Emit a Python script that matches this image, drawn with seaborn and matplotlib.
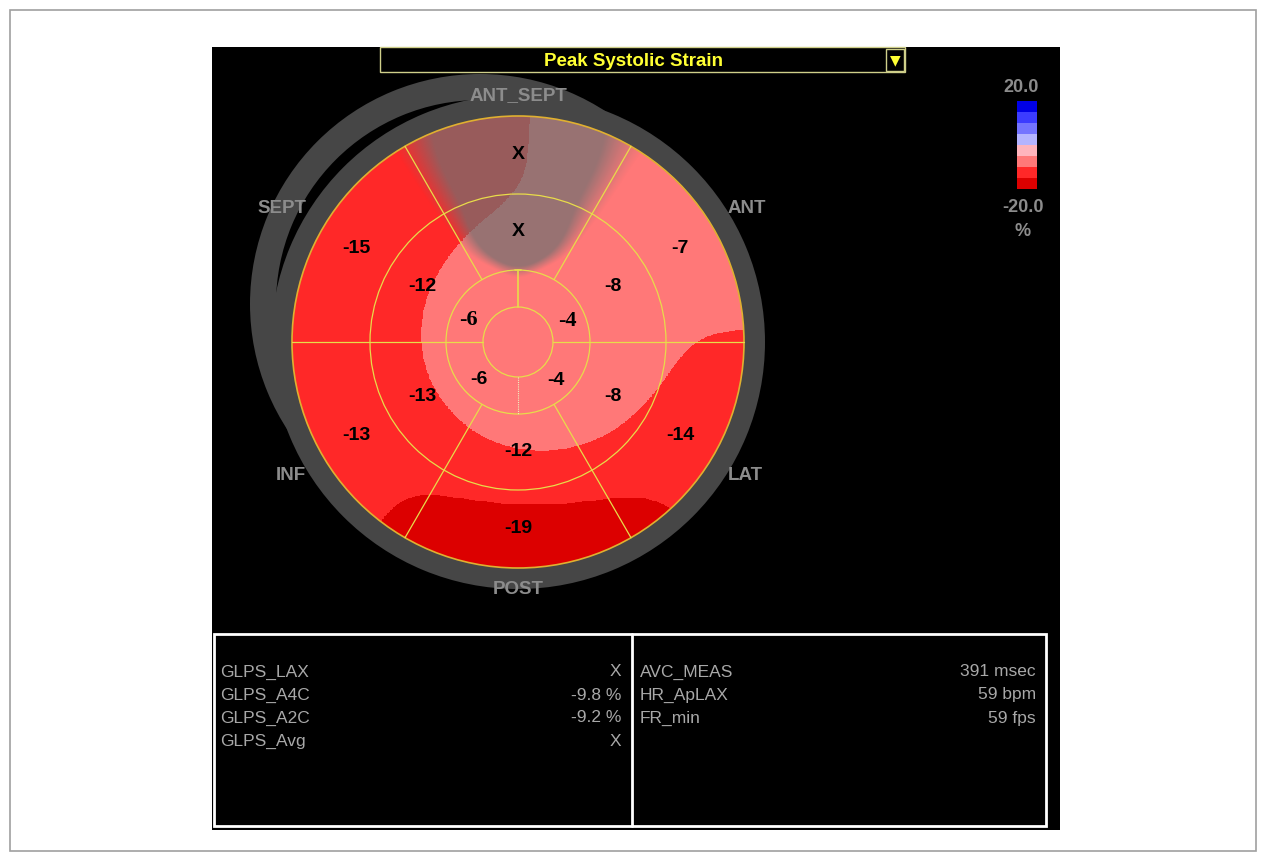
import numpy as np
import matplotlib
matplotlib.use("Agg")
import matplotlib.pyplot as plt
from matplotlib.colors import ListedColormap, BoundaryNorm
from matplotlib.patches import Rectangle, Circle, Wedge
import seaborn as sns

# ---- data -------------------------------------------------------------
walls = ["ANT_SEPT", "ANT", "LAT", "POST", "INF", "SEPT"]
wall_angles = [90, 30, -30, -90, -150, 150]              # degrees, counter-clockwise
basal_strain = [np.nan, -7, -14, -19, -13, -15]          # NaN = not measured ("X")
mid_strain = [np.nan, -8, -8, -12, -13, -12]
apical_angles = [45, -45, -135, 135]
apical_strain = [-4, -4, -6, -6]

cbar_levels = [-20, -15, -10, -5, 0, 5, 10, 15, 20]
cbar_colors = ["#dc0000", "#ff2828", "#ff7878", "#ffb4bc",
               "#b4b4ff", "#7474ff", "#3c3cff", "#0000e6"]

title = "Peak Systolic Strain"
left_labels = ["GLPS_LAX", "GLPS_A4C", "GLPS_A2C", "GLPS_Avg"]
left_values = ["X", "-9.8 %", "-9.2 %", "X"]
right_labels = ["AVC_MEAS", "HR_ApLAX", "FR_min"]
right_values = ["391 msec", "59 bpm", "59 fps"]

# ---- style ------------------------------------------------------------
sns.set_style("white")
plt.rcParams["font.family"] = ["Liberation Sans", "DejaVu Sans"]

W, H = 1266, 861
fig = plt.figure(figsize=(W / 100, H / 100), dpi=100)
fig.patch.set_facecolor("white")

# background axes in pixel units
bg = fig.add_axes([0, 0, 1, 1])
bg.set_xlim(0, W)
bg.set_ylim(H, 0)
bg.axis("off")

bg.add_patch(Rectangle((10, 10), 1246, 841, fill=False, ec="#a0a0a0", lw=1.2))
bg.add_patch(Rectangle((212, 47), 848, 783, fc="black", ec="none"))

# title bar
bg.add_patch(Rectangle((380, 47), 525, 25, fc="black", ec="#cfcf8a", lw=1))
bg.add_patch(Rectangle((886, 49), 18, 22, fc="black", ec="#cfcf8a", lw=1))
bg.text(633, 61, title, color="#ffff33", fontsize=13.5, fontweight="bold",
        ha="center", va="center")
bg.text(895, 60, "\u25BC", color="#ffff33", fontsize=10, ha="center", va="center",
        family="DejaVu Sans")

# colour scale
cmap = ListedColormap(sns.color_palette(cbar_colors))
norm = BoundaryNorm(cbar_levels, cmap.N)
box_h = 11
for i, c in enumerate(cbar_colors[::-1]):
    bg.add_patch(Rectangle((1017, 101 + i * box_h), 20, box_h, fc=c, ec="none"))
lab_kw = dict(color="#8c8c8c", fontsize=13, fontweight="bold", ha="center", va="center")
bg.text(1021, 87, f"{cbar_levels[-1]:.1f}", **lab_kw)
bg.text(1023, 207, f"{cbar_levels[0]:.1f}", **lab_kw)
bg.text(1023, 231, "%", **lab_kw)

# bottom measurement tables
bg.add_patch(Rectangle((214, 634), 832, 192, fill=False, ec="white", lw=2))
bg.plot([632, 632], [634, 826], color="white", lw=2)
tab_kw = dict(color="#a8a8a8", fontsize=12.5, va="center")
for i, (lab, val) in enumerate(zip(left_labels, left_values)):
    y = 672 + i * 23
    bg.text(220, y, lab, ha="left", **tab_kw)
    bg.text(621, y, val, ha="right", **tab_kw)
for i, (lab, val) in enumerate(zip(right_labels, right_values)):
    y = 672 + i * 23
    bg.text(640, y, lab, ha="left", **tab_kw)
    bg.text(1036, y, val, ha="right", **tab_kw)

# ---- bullseye ---------------------------------------------------------
cx, cy = 518, 342
S = 300
ax = fig.add_axes([(cx - S) / W, (H - cy - S) / H, 2 * S / W, 2 * S / H])
ax.set_xlim(-S, S)
ax.set_ylim(-S, S)
ax.axis("off")
ax.patch.set_alpha(0)

R_apex, R_apical, R_mid, R_base = 35, 72, 148, 226

# grey frame rings around the plot
ax.add_patch(Wedge((-38, 38), 230, 0, 360, width=26, fc="#464646", ec="none", zorder=1))
ax.add_patch(Wedge((0, 0), 247, 0, 360, width=22, fc="#464646", ec="none", zorder=1))

# segment centres
node_r, node_t, node_v = [], [], []
for ang, b, m in zip(wall_angles, basal_strain, mid_strain):
    node_r += [(R_mid + R_base) / 2, (R_apical + R_mid) / 2]
    node_t += [ang, ang]
    node_v += [b, m]
for ang, a in zip(apical_angles, apical_strain):
    node_r.append((R_apex + R_apical) / 2)
    node_t.append(ang)
    node_v.append(a)
node_r = np.array(node_r, float)
node_t = np.radians(node_t)
node_v = np.array(node_v, float)
nx, ny = node_r * np.cos(node_t), node_r * np.sin(node_t)
valid = ~np.isnan(node_v)

# smoothed strain map: kernel regression, wider along the rings than across them
g = np.linspace(-R_base, R_base, 601)
GX, GY = np.meshgrid(g, g)
GR = np.hypot(GX, GY)[..., None]
GT = np.arctan2(GY, GX)[..., None]
dth = np.angle(np.exp(1j * (GT - node_t)))
arc = 0.5 * (GR + node_r) * dth
kern = np.exp(-0.5 * (((GR - node_r) / 40.0) ** 2 + (arc / 95.0) ** 2))
field = (kern[..., valid] * node_v[valid]).sum(-1) / kern[..., valid].sum(-1)

# share of unmeasured segments around each point
d2 = (GX[..., None] - nx) ** 2 + (GY[..., None] - ny) ** 2
idw = 1.0 / (np.sqrt(d2) + 1e-6) ** 3
missing = idw[..., ~valid].sum(-1) / idw.sum(-1)

disk = Circle((0, 0), R_base, transform=ax.transData)
mesh = ax.pcolormesh(GX, GY, field, cmap=cmap, norm=norm, shading="nearest", zorder=2)
mesh.set_clip_path(disk)

overlay = np.zeros(GX.shape + (4,))
overlay[..., :3] = 0.44
overlay[..., 3] = 0.72 * np.clip((missing - 0.30) / 0.28, 0, 1)
im = ax.imshow(overlay, extent=(-R_base, R_base, -R_base, R_base), origin="lower",
               zorder=3, interpolation="bilinear")
im.set_clip_path(disk)

# segment grid
line_c = "#e8dc4a"
for r in (R_apex, R_apical, R_mid):
    ax.add_patch(Circle((0, 0), r, fill=False, ec=line_c, lw=0.9, zorder=4))
ax.add_patch(Circle((0, 0), R_base, fill=False, ec="#e0b030", lw=1.2, zorder=4))
for ang in (60, 120, 240, 300):
    t = np.radians(ang)
    ax.plot([R_apical * np.cos(t), R_base * np.cos(t)],
            [R_apical * np.sin(t), R_base * np.sin(t)], color=line_c, lw=0.9, zorder=4)
for ang in (0, 180):
    t = np.radians(ang)
    ax.plot([R_apex * np.cos(t), R_base * np.cos(t)],
            [R_apex * np.sin(t), R_base * np.sin(t)], color=line_c, lw=0.9, zorder=4)
ax.plot([0, 0], [R_apex, R_apical], color=line_c, lw=1.2, zorder=4)
ax.plot([-3, 3], [R_apical, R_apical], color=line_c, lw=1.2, zorder=4)
ax.plot([0, 0], [-R_apex, -R_apical], color="#f0f0c0", lw=0.8, ls=(0, (1, 1)), zorder=4)


def fmt(v):
    return "X" if np.isnan(v) else f"{v:.0f}"


seg_kw = dict(color="black", fontsize=14, fontweight="bold", ha="center",
              va="center", zorder=5)
for ang, b, m in zip(wall_angles, basal_strain, mid_strain):
    t = np.radians(ang)
    rb, rm = (R_mid + R_base) / 2, (R_apical + R_mid) / 2
    ax.text(rb * np.cos(t), rb * np.sin(t), fmt(b), **seg_kw)
    ax.text(rm * np.cos(t), rm * np.sin(t), fmt(m), **seg_kw)

apical_label_angles = [23, -46, -136, 156]
for ang, a in zip(apical_label_angles, apical_strain):
    t = np.radians(ang)
    ra = 54
    if ang > 0:
        ax.text(ra * np.cos(t), ra * np.sin(t), "-" + f"{abs(a):.0f}", color="black",
                fontsize=16, fontweight="bold", family="Liberation Serif",
                ha="center", va="center", zorder=5)
    else:
        ax.text(ra * np.cos(t), ra * np.sin(t), fmt(a), **seg_kw)

# wall names
wall_label_r = [246, 265, 264, 247, 264, 271]
wall_label_ang = [90, 30.2, -30.5, -90, -149.5, 150.5]
for name, ang, r in zip(walls, wall_label_ang, wall_label_r):
    t = np.radians(ang)
    ax.text(r * np.cos(t), r * np.sin(t), name, color="#8c8c8c", fontsize=13.5,
            fontweight="bold", ha="center", va="center", zorder=6)

fig.savefig("out.png", dpi=100, facecolor=fig.get_facecolor())
